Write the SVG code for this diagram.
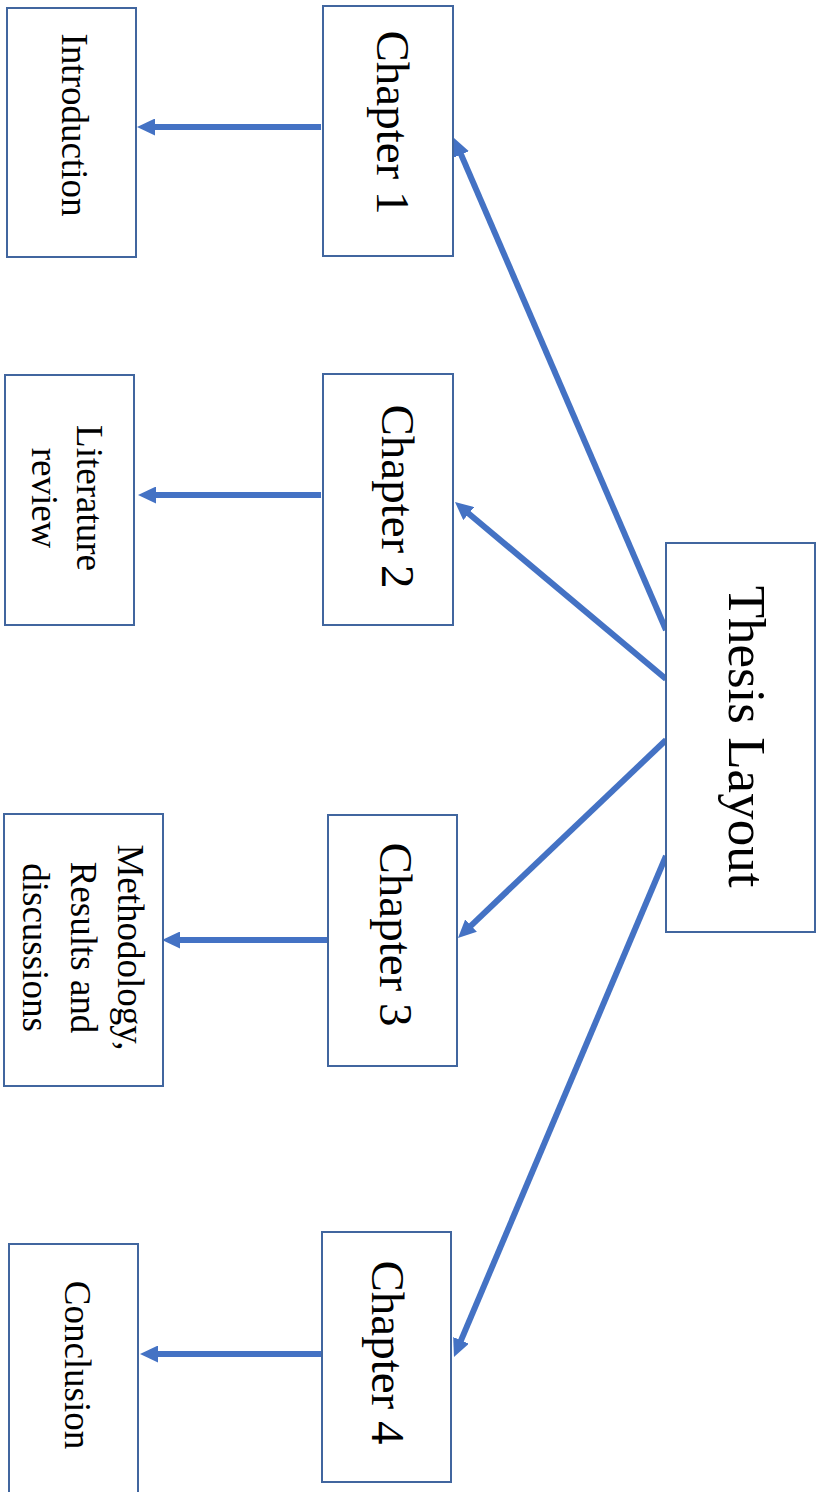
<svg xmlns="http://www.w3.org/2000/svg" width="816" height="1492" viewBox="0 0 816 1492">
<style>
.box{fill:#fff;stroke:#41669F;stroke-width:2}
.t{font-family:"Liberation Serif","Times New Roman",serif;fill:#000;text-anchor:middle}
.ch{font-size:47px}
.sm{font-size:37px}
.big{font-size:53px}
.con{fill:none;stroke:#4472C4;stroke-width:6;marker-end:url(#ah)}
</style>
<defs>
<marker id="ah" markerUnits="userSpaceOnUse" markerWidth="18" markerHeight="17" viewBox="0 0 18 17" refX="1" refY="8.5" orient="auto">
<path d="M0,0 L18,8.5 L0,17 z" fill="#4472C4"/>
</marker>
</defs>
<rect width="816" height="1492" fill="#fff"/>
<g id="connectors">
<path class="con" d="M321,127 L154,127"/>
<path class="con" d="M321,495 L155,495"/>
<path class="con" d="M328,940 L179,940"/>
<path class="con" d="M322,1354 L157,1354"/>
<path class="con" d="M666,630 L460.7,153.6"/>
<path class="con" d="M666,679 L468,513"/>
<path class="con" d="M666,740 L470.3,926.3"/>
<path class="con" d="M666,856 L460.6,1341.3"/>
</g>
<g id="thesis">
<rect class="box" x="666" y="543" width="149" height="389"/>
<text class="t big" transform="translate(729,736.5) rotate(90)">Thesis Layout</text>
</g>
<g id="ch1">
<rect class="box" x="323" y="6" width="130" height="250"/>
<text class="t ch" transform="translate(377,122.5) rotate(90)">Chapter 1</text>
</g>
<g id="ch2">
<rect class="box" x="323" y="374" width="130" height="251"/>
<text class="t ch" transform="translate(382,496.5) rotate(90)">Chapter 2</text>
</g>
<g id="ch3">
<rect class="box" x="328" y="815" width="129" height="251"/>
<text class="t ch" transform="translate(380,934.5) rotate(90)">Chapter 3</text>
</g>
<g id="ch4">
<rect class="box" x="322" y="1232" width="129" height="250"/>
<text class="t ch" transform="translate(372,1352.5) rotate(90)">Chapter 4</text>
</g>
<g id="intro">
<rect class="box" x="7" y="8" width="129" height="249"/>
<text class="t sm" transform="translate(62,125) rotate(90)">Introduction</text>
</g>
<g id="litrev">
<rect class="box" x="5" y="375" width="129" height="250"/>
<text class="t sm" transform="translate(77,498) rotate(90)"><tspan x="0" y="0">Literature</tspan><tspan x="0" y="45">review</tspan></text>
</g>
<g id="method">
<rect class="box" x="4" y="814" width="159" height="272"/>
<text class="t sm" transform="translate(118,947.5) rotate(90)"><tspan x="0" y="0">Methodology,</tspan><tspan x="0" y="47">Results and</tspan><tspan x="0" y="95">discussions</tspan></text>
</g>
<g id="conclusion">
<rect class="box" x="9" y="1244" width="129" height="260"/>
<text class="t sm" transform="translate(65,1365) rotate(90)">Conclusion</text>
</g>
</svg>
